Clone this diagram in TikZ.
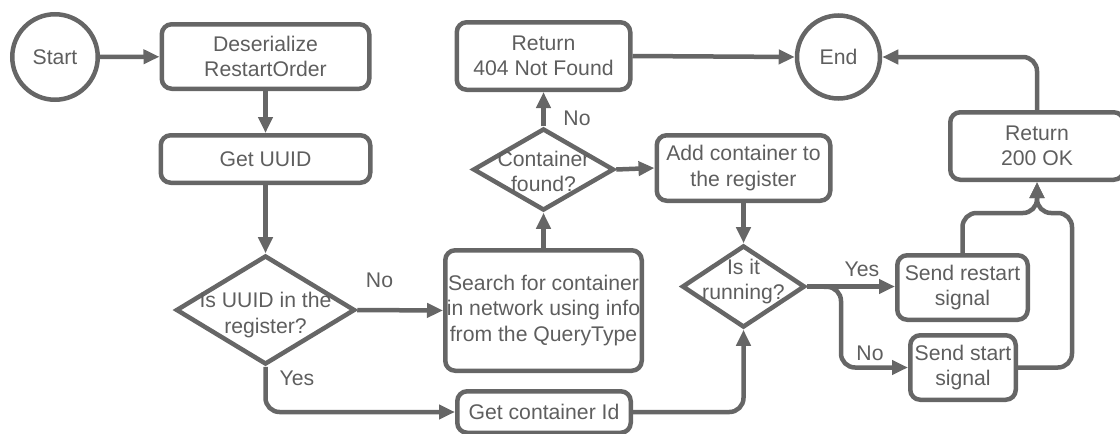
\documentclass[tikz,border=0pt]{standalone}
\usepackage{fontspec}
\setmainfont{Liberation Sans}
\usetikzlibrary{arrows.meta,shapes.geometric}
\definecolor{fg}{HTML}{666666}
\definecolor{tx}{HTML}{5E5E5E}
\begin{document}
\begin{tikzpicture}[x=1pt,y=-1pt,
  every node/.style={font=\fontsize{21.2}{25.5}\selectfont, text=tx},
  base/.style={draw=fg, line width=4.5pt, inner sep=0pt, align=center},
  box/.style={base, rectangle, rounded corners=10pt},
  term/.style={base, circle},
  dia/.style={base, diamond},
  lbl/.style={inner sep=0pt},
  arr/.style={draw=fg, line width=4.5pt, -{Triangle[length=16pt,width=14pt]}},
  ln/.style={draw=fg, line width=4.5pt},
]
\useasboundingbox (0,0) rectangle (1120,434);
\clip (0,0) rectangle (1120,434);

\node[term, minimum size=85.5pt] (start) at (55,57) {Start};
\node[box, minimum width=207.5pt, minimum height=64.5pt] (deser) at (265.5,56.5) {Deserialize\\RestartOrder};
\node[box, minimum width=209.5pt, minimum height=47.5pt] (uuid) at (265.5,159) {Get UUID};
\node[dia, minimum width=179pt, minimum height=109pt,
  label={[align=center, yshift=-5pt]center:Is UUID in the\\register?}] (isuuid) at (265.5,310) {};
\node[box, minimum width=196.5pt, minimum height=120.5pt] (search) at (543.5,310.5) {Search for container\\in network using info\\from the QueryType};
\node[box, minimum width=173.5pt, minimum height=41.5pt] (getid) at (544,412) {Get container Id};
\node[dia, minimum width=141pt, minimum height=82pt,
  label={[align=center, yshift=-2pt]center:Container\\found?}] (cfound) at (543.5,169.5) {};
\node[box, minimum width=173.5pt, minimum height=67.5pt] (r404) at (543.5,56) {Return\\404 Not Found};
\node[term, minimum size=83pt] (end) at (838.5,57) {End};
\node[box, minimum width=173.5pt, minimum height=65.5pt] (addc) at (743.5,168) {Add container to\\the register};
\node[dia, minimum width=123pt, minimum height=82pt,
  label={[align=center, yshift=5pt]center:Is it\\running?}] (isrun) at (743.5,286.5) {};
\node[box, minimum width=130.5pt, minimum height=64.5pt] (restart) at (962.5,287.5) {Send restart\\signal};
\node[box, minimum width=105.5pt, minimum height=64.5pt] (sstart) at (963,367.5) {Send start\\signal};
\node[box, minimum width=173.5pt, minimum height=67.5pt] (r200) at (1037,146) {Return\\200 OK};

\coordinate (mj) at (1037,213);
\coordinate (rj) at (1072,213);
\coordinate (bj) at (841,287);

\draw[arr] (start) -- (deser);
\draw[arr] (deser) -- (uuid);
\draw[arr] (uuid) -- (isuuid);
\draw[arr] (isuuid.east) -- (search.west);
\draw[arr, rounded corners=14pt] (isuuid.south) |- (getid.west);
\draw[arr] (search) -- (cfound);
\draw[arr] (cfound) -- (r404);
\draw[arr] (cfound.east) -- (addc.west);
\draw[arr] (r404.east) -- (end.west);
\draw[arr] (addc) -- (isrun);
\draw[arr, rounded corners=14pt] (getid.east) -| (isrun.south);
\draw[arr] (isrun.east) -- (isrun.east -| restart.west);
\draw[arr, rounded corners=14pt] (isrun.east) -- (bj) |- (sstart.west);
\draw[arr, rounded corners=14pt] (restart.north) |- (mj) -- (r200.south);
\draw[arr, rounded corners=14pt] (sstart.east) -| (rj) -- (mj) -- (r200.south);
\draw[arr, rounded corners=14pt] (r200.north) |- (end.east);

\node[lbl] (lno1) at (379.5,280) {No};
\node[lbl] (lyes1) at (297,378) {Yes};
\node[lbl] (lno2) at (577,118) {No};
\node[lbl] (lyes2) at (862,269) {Yes};
\node[lbl] (lno3) at (870,353) {No};
\end{tikzpicture}
\end{document}
